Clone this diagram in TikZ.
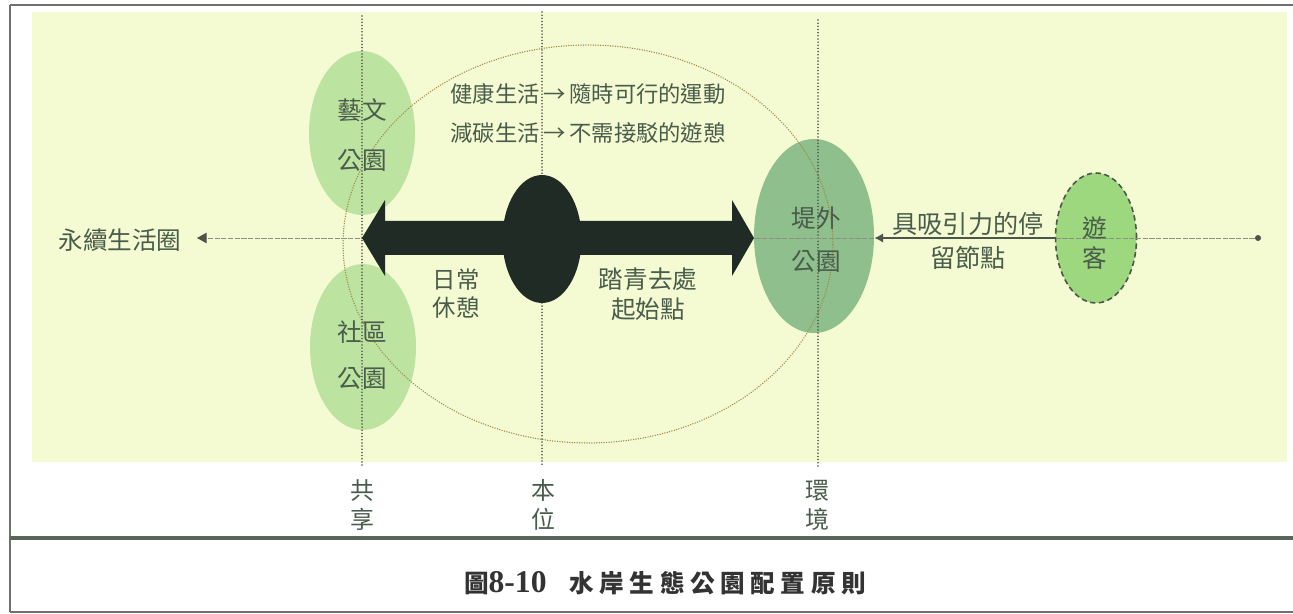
\documentclass[tikz,border=0pt]{standalone}
\usepackage{fontspec}
\setmainfont{Noto Sans CJK TC}
\newfontfamily\serifnum{Liberation Serif}
\usetikzlibrary{shapes.geometric, arrows.meta}
\definecolor{bgyellow}{HTML}{F4FAD2}
\definecolor{lightgreen}{HTML}{BDE3A0}
\definecolor{midgreen}{HTML}{8EBF8C}
\definecolor{brightgreen}{HTML}{9DD77E}
\definecolor{darkfill}{HTML}{1F2B24}
\definecolor{txtc}{HTML}{4A5C4B}
\definecolor{framec}{HTML}{707070}
\definecolor{divc}{HTML}{58665C}
\definecolor{dotc}{HTML}{505249}
\definecolor{circc}{HTML}{9A8A48}
\definecolor{axisc}{HTML}{8A9184}
\definecolor{visc}{HTML}{4A564A}
\definecolor{capc}{HTML}{333333}
\tikzset{
  blob/.style={ellipse, inner sep=0pt, draw=none},
  lbl/.style={text=txtc, align=center, inner sep=0pt},
  fs/.style 2 args={font=\fontsize{#1}{#2}\selectfont},
  vdots/.style={draw=dotc, line width=1pt, line cap=round, dash pattern=on 0pt off 1.8pt},
  circdots/.style={draw=circc, line width=0.85pt, line cap=round, dash pattern=on 0pt off 1.4pt},
  axisline/.style={draw=axisc, line width=0.5pt, dash pattern=on 3pt off 0.8pt},
  framel/.style={draw=framec, line width=1.4pt},
  visarrow/.style={draw=visc, line width=1.7pt, -{Latex[length=5pt,width=5.5pt]}},
}
\def\cs{\hspace{3.2pt}}
\begin{document}
\begin{tikzpicture}[x=0.02cm,y=-0.02cm]
\useasboundingbox (0,0) rectangle (1293,614);
\fill[white] (0,0) rectangle (1293,614);
\fill[bgyellow] (32,12) rectangle (1287,462);
% frame
\draw[framel] (10,5) -- (1293,5);
\draw[framel] (10,5) -- (10,612);
\draw[draw=divc, line width=2pt] (10,538) -- (1293,538);
\draw[framel] (10,612) -- (1293,612);

% light ellipses
\node[blob, fill=lightgreen, minimum width=2.12cm, minimum height=3.28cm] (yiwen) at (362,133) {};
\node[blob, fill=lightgreen, minimum width=2.12cm, minimum height=3.32cm] (shequ) at (363,347) {};
\node[blob, fill=midgreen, minimum width=2.4cm, minimum height=3.88cm] (tiwai) at (814,236) {};
\node[blob, fill=brightgreen, draw=visc, line width=0.9pt, densely dashed, minimum width=1.62cm, minimum height=2.6cm] (youke) at (1096,238) {};

% big dotted ellipse
\draw[circdots] (588,244) ellipse [x radius=4.9cm, y radius=3.98cm];

% vertical dotted lines
\coordinate (gxT) at (362,16);
\coordinate (gxB) at (362,467);
\coordinate (bwT) at (542,12);
\coordinate (bwB) at (542,467);
\coordinate (hjT) at (818,20);
\coordinate (hjB) at (818,467);
\draw[vdots] (gxT) -- (gxB);
\draw[vdots] (bwT) -- (bwB);
\draw[vdots] (hjT) -- (hjB);

% axis
\coordinate (axL) at (197,238);
\node[circle, fill=dotc, inner sep=0pt, minimum size=0.12cm] (dotR) at (1258,238) {};
\draw[axisline, -{Triangle[length=5.5pt,width=6pt,color=dotc]}] (dotR) -- (axL);

% dark centre ellipse
\node[blob, fill=darkfill, minimum width=1.58cm, minimum height=2.56cm] (benwei) at (542,239) {};

% big double arrow
\fill[darkfill] (362,238) -- (385,200) -- (385,221) -- (732,221) -- (732,200) -- (754,238)
  -- (732,276) -- (732,255) -- (385,255) -- (385,276) -- cycle;

% visitor arrow
\draw[visarrow] (youke.west) -- (youke.west -| tiwai.east);

% texts
\node[lbl, fs={14pt}{14pt}] (yongxu) at (120,240) {永續生活圈};
\node[lbl, fs={14pt}{28pt}] (tyiwen) at (362,135) {藝文\\公園};
\node[lbl, fs={14pt}{26.6pt}] (tshequ) at (362,355) {社區\\公園};
\node[lbl, fs={14pt}{24.4pt}] (ttiwai) at (816,240) {堤外\\公園};
\node[lbl, fs={14pt}{17pt}] (tyouke) at (1095,243) {遊\\客};
\node[lbl, fs={14.3pt}{19pt}] (tvis) at (968,241) {具吸引力的停\\留節點};
\node[lbl, fs={13.3pt}{16pt}] (trichang) at (456,294) {日常\\休憩};
\node[lbl, fs={14pt}{17pt}] (ttaqing) at (648,294) {踏青去處\\起始點};
\node[lbl, fs={12.7pt}{12.7pt}] (top1) at (588,94) {健康生活\,→\,隨時可行的運動};
\node[lbl, fs={12.7pt}{12.7pt}] (top2) at (588,133) {減碳生活\,→\,不需接駁的遊憩};
\node[lbl, fs={13.6pt}{16.6pt}] (lgx) at (362,505) {共\\享};
\node[lbl, fs={13.6pt}{16.6pt}] (lbw) at (543,505) {本\\位};
\node[lbl, fs={13.6pt}{16.6pt}] (lhj) at (817,505) {環\\境};

% caption
\node[inner sep=0pt, text=capc, fs={14pt}{14pt}] (cap) at (665,583)
  {\bfseries 圖{\serifnum\fontsize{18pt}{18pt}\selectfont\bfseries 8-10}\hspace{13pt}水\cs 岸\cs 生\cs 態\cs 公\cs 園\cs 配\cs 置\cs 原\cs 則};
\end{tikzpicture}
\end{document}
